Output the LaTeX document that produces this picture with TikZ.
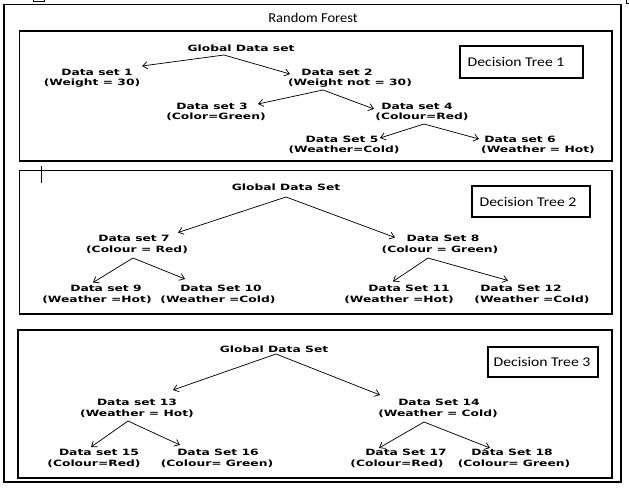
\documentclass[tikz,border=0pt]{standalone}
\usepackage{fontspec}
\usetikzlibrary{arrows.meta,calc}
\newfontfamily\labfont[FakeStretch=1.42]{DejaVu Sans Bold}
\newfontfamily\ttlfont[FakeStretch=1.07]{Carlito}
\newfontfamily\dtfont[FakeStretch=1.18]{Carlito}
\begin{document}
\begin{tikzpicture}[x=0.75pt,y=-0.75pt,
  lab/.style={font=\labfont\fontsize{6.5}{8}\selectfont, inner sep=0pt},
  ttl/.style={font=\ttlfont\fontsize{10.2}{12}\selectfont, inner sep=0pt},
  dtl/.style={font=\dtfont\fontsize{10}{12}\selectfont, inner sep=0pt},
  frame/.style={draw, line width=0.8pt},
  arr/.style={line width=0.55pt, -{Straight Barb[length=3.6pt,width=5.4pt,line width=0.55pt]}},
  artef/.style={line width=0.7pt}]
\useasboundingbox (0,0) rectangle (629,490);
% frames
\draw[frame] (4,4.5) rectangle (621,482);
\draw[frame] (19.5,31) rectangle (612,161);
\draw[frame] (19.5,170.5) rectangle (612,314);
\draw[frame] (18,330) rectangle (612,478);
% screenshot artefacts
\draw[artef] (33,-4) rectangle (44,1);
\draw[artef] (626,0) -- (626,3) -- (629,3);
\draw[artef] (41.3,166) -- (41.3,183);
% title
\node[ttl] (title) at (313,17.5) {Random Forest};
% decision tree labels
\node[frame, minimum width=123*0.75pt, minimum height=32*0.75pt, inner sep=0pt] (dt1box) at (521.5,62) {};
\node[dtl] (dt1) at (516,62) {Decision Tree 1};
\node[frame, minimum width=118*0.75pt, minimum height=31*0.75pt, inner sep=0pt] (dt2box) at (531,201.5) {};
\node[dtl] (dt2) at (528,201.5) {Decision Tree 2};
\node[frame, minimum width=110*0.75pt, minimum height=30*0.75pt, inner sep=0pt] (dt3box) at (543,362) {};
\node[dtl] (dt3) at (542,362) {Decision Tree 3};
% ---------- tree 1
\node[lab] (g1) at (241,48) {Global Data set};
\node[lab] (d1a) at (97,72) {Data set 1};
\node[lab] (d1b) at (92,83) {(Weight = 30)};
\node[lab] (d2a) at (337,72) {Data set 2};
\node[lab] (d2b) at (350,83) {(Weight not = 30)};
\node[lab] (d3a) at (212,106) {Data set 3};
\node[lab] (d3b) at (216,117) {(Color=Green)};
\node[lab] (d4a) at (417,106) {Data set 4};
\node[lab] (d4b) at (422,117) {(Colour=Red)};
\node[lab] (d5a) at (342,139) {Data Set 5};
\node[lab] (d5b) at (344,150) {(Weather=Cold)};
\node[lab] (d6a) at (520,139) {Data set 6};
\node[lab] (d6b) at (538,150) {(Weather = Hot)};
\draw[arr] ($(g1)+(-17,7)$) -- ($(d1a)+(45,-6)$);
\draw[arr] ($(g1)+(-17,7)$) -- ($(d2a)+(-47,2)$);
\draw[arr] ($(d2b)+(-27,7)$) -- ($(d3a)+(46,-2)$);
\draw[arr] ($(d2b)+(-27,7)$) -- ($(d4a)+(-43,3)$);
\draw[arr] ($(d4b)+(2,7)$) -- ($(d5a)+(38,-1)$);
\draw[arr] ($(d4b)+(2,7)$) -- ($(d6a)+(-41,0)$);
% ---------- tree 2
\node[lab] (g2) at (286,187) {Global Data Set};
\node[lab] (d7a) at (134,238.5) {Data set 7};
\node[lab] (d7b) at (137,250) {(Colour = Red)};
\node[lab] (d8a) at (443,238.5) {Data Set 8};
\node[lab] (d8b) at (440,250) {(Colour = Green)};
\node[lab] (d9a) at (106,288.5) {Data set 9};
\node[lab] (d9b) at (97,299.5) {(Weather =Hot)};
\node[lab] (d10a) at (221,288.5) {Data Set 10};
\node[lab] (d10b) at (218,299.5) {(Weather =Cold)};
\node[lab] (d11a) at (409,288.5) {Data Set 11};
\node[lab] (d11b) at (399,299.5) {(Weather =Hot)};
\node[lab] (d12a) at (521,288.5) {Data Set 12};
\node[lab] (d12b) at (532,299.5) {(Weather =Cold)};
\draw[arr] ($(g2)+(0,10)$) -- ($(d7a)+(44,-6)$);
\draw[arr] ($(g2)+(0,10)$) -- ($(d8a)+(-48,-1)$);
\draw[arr] ($(d7b)+(-4,8)$) -- ($(d9a)+(-13,-6)$);
\draw[arr] ($(d7b)+(-4,8)$) -- ($(d10a)+(-36,-9.5)$);
\draw[arr] ($(d8b)+(-12,8)$) -- ($(d11a)+(-16,-7)$);
\draw[arr] ($(d8b)+(-12,8)$) -- ($(d12a)+(-13,-8)$);
% ---------- tree 3
\node[lab] (g3) at (274,349) {Global Data Set};
\node[lab] (d13a) at (137,402) {Data set 13};
\node[lab] (d13b) at (137,413.5) {(Weather = Hot)};
\node[lab] (d14a) at (439,402) {Data Set 14};
\node[lab] (d14b) at (438,413.5) {(Weather = Cold)};
\node[lab] (d15a) at (99,452) {Data set 15};
\node[lab] (d15b) at (94,463.5) {(Colour=Red)};
\node[lab] (d16a) at (218,452) {Data Set 16};
\node[lab] (d16b) at (217,463.5) {(Colour= Green)};
\node[lab] (d17a) at (406,452) {Data Set 17};
\node[lab] (d17b) at (397,463.5) {(Colour=Red)};
\node[lab] (d18a) at (512,452) {Data Set 18};
\node[lab] (d18b) at (514,463.5) {(Colour= Green)};
\draw[arr] ($(g3)+(2,5)$) -- ($(d13a)+(36,-12)$);
\draw[arr] ($(g3)+(2,5)$) -- ($(d14a)+(-59,-7)$);
\draw[arr] ($(d13b)+(-9,7.5)$) -- ($(d15a)+(-8,-5)$);
\draw[arr] ($(d13b)+(-9,7.5)$) -- ($(d16a)+(-38,-7)$);
\draw[arr] ($(d14b)+(-14,8.5)$) -- ($(d17a)+(-27,-4)$);
\draw[arr] ($(d14b)+(-14,8.5)$) -- ($(d18a)+(-22,-4)$);
\end{tikzpicture}
\end{document}
